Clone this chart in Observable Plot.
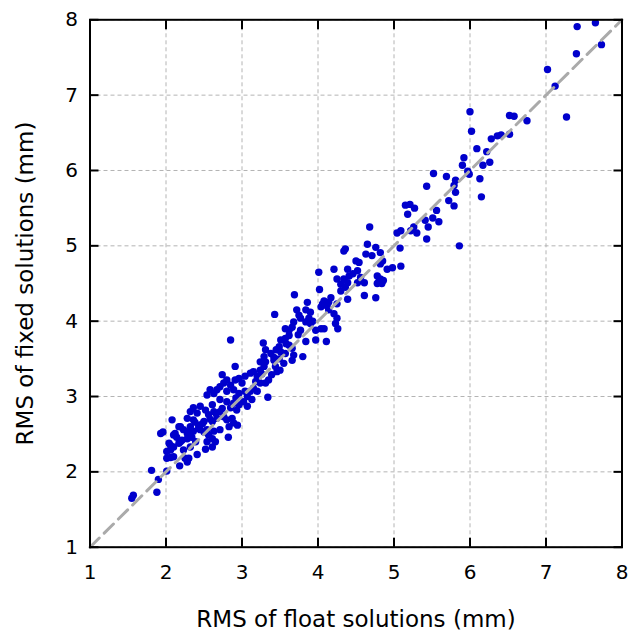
<!DOCTYPE html>
<html>
<head>
<meta charset="utf-8">
<script src="https://cdn.jsdelivr.net/npm/d3@7"></script>
<script src="https://cdn.jsdelivr.net/npm/@observablehq/plot@0.6"></script>
<style>
  html, body { margin: 0; padding: 0; background: #fff; }
  #chart svg { display: block; }
</style>
</head>
<body>
<div id="chart"></div>
<script>
// RMS of float solutions (mm)
const floatRms = [
  7.41,7.65,7.73,7.40,7.02,7.12,7.27,6.75,6.52,6.58,6.00,6.02,6.52,6.41,6.36,6.28,6.09,6.22,6.26,6.17,
  5.92,5.90,5.97,5.99,6.13,6.15,5.52,5.69,5.81,5.43,5.79,5.81,5.72,5.79,5.15,5.21,5.27,5.18,5.56,5.51,
  5.41,5.59,5.45,5.43,5.86,5.04,5.09,5.22,5.30,5.26,5.08,
  4.68,4.65,4.76,4.34,4.36,4.63,4.71,4.82,4.50,4.54,4.85,4.82,4.91,4.98,5.09,4.01,4.21,4.39,4.41,4.34,
  4.25,4.52,4.56,4.52,4.78,4.82,4.80,4.86,4.84,4.78,4.39,4.30,4.36,4.61,4.30,4.02,4.61,4.76,4.39,4.17,
  4.08,4.14,4.06,3.86,4.25,
  3.69,3.84,3.90,4.04,3.72,3.75,3.77,3.43,4.14,4.21,4.25,4.23,3.88,3.84,3.90,3.68,3.66,3.62,3.57,3.77,
  4.04,4.08,3.97,4.26,3.62,3.57,3.51,3.84,3.97,4.11,3.28,3.49,3.62,3.66,3.45,3.51,3.57,3.31,3.38,3.29,
  3.68,3.80,3.66,3.49,3.55,3.42,3.31,
  2.85,3.24,3.29,3.44,3.50,3.46,2.91,2.74,2.80,2.76,2.71,2.85,2.91,2.96,3.00,3.04,3.11,3.15,3.20,3.24,
  3.31,3.35,3.39,2.58,2.63,2.67,2.54,2.80,2.89,2.96,3.04,3.11,3.15,3.20,3.24,3.34,3.07,3.13,3.02,2.71,
  2.80,2.89,2.85,2.96,2.93,2.36,2.45,2.32,2.41,2.52,2.61,2.63,2.56,2.71,2.76,2.67,2.80,2.87,2.83,2.89,
  2.28,2.36,2.43,2.32,2.19,2.23,2.50,2.61,2.45,2.54,2.63,2.71,2.28,2.36,
  1.55,1.57,1.88,1.90,1.81,2.01,1.93,1.96,2.18,2.28,2.30,2.25,2.41,2.52,2.61,2.01,2.06,2.10,2.01,2.06,
  2.04,2.06,2.10,2.17,2.19,2.12,2.10,2.14,2.21,2.08,2.17,2.34,2.28,2.39,2.32,2.23,2.54,2.65,2.61,2.56,
  2.50,2.43,2.30,2.82,3.07,2.94,
  2.48,2.58,2.66,2.74,3.18,3.26,3.42,3.58,3.74,3.93,4.12,4.46,2.38,2.92
];
// RMS of fixed solutions (mm)
const fixedRms = [
  7.91,7.96,7.67,7.55,7.34,7.12,6.71,6.66,6.73,6.72,6.78,6.52,6.48,6.47,6.46,6.42,6.29,6.25,6.11,6.07,
  6.17,6.07,5.99,5.95,5.89,5.65,5.96,5.92,5.87,5.79,5.80,5.71,5.60,5.53,5.54,5.55,5.50,5.42,5.47,5.37,
  5.34,5.32,5.25,5.09,5.00,5.17,5.20,5.20,5.17,5.25,4.97,
  5.25,5.02,4.98,4.93,4.96,4.89,4.87,4.91,4.80,4.78,4.80,4.76,4.69,4.71,4.73,4.65,4.69,4.69,4.60,4.56,
  4.56,4.67,4.58,4.51,4.60,4.56,4.52,4.54,4.50,4.50,4.51,4.49,4.45,4.51,4.40,4.42,4.34,4.31,4.29,4.31,
  4.27,4.25,4.23,4.25,4.23,
  4.35,4.15,4.12,4.19,4.15,4.08,4.04,4.09,4.15,4.10,4.04,3.97,4.04,3.99,3.97,3.99,3.92,3.88,3.90,3.88,
  3.90,3.90,3.88,3.90,3.81,3.77,3.75,3.73,3.75,3.73,3.71,3.66,3.68,3.64,3.62,3.59,3.57,3.62,3.57,3.53,
  3.55,3.53,3.48,3.50,3.44,3.48,3.46,
  3.75,3.46,3.40,3.40,3.35,3.33,3.40,3.29,3.22,3.18,3.13,3.15,3.22,3.24,3.18,3.27,3.31,3.33,3.27,3.35,
  3.18,3.22,3.29,3.09,3.04,3.09,3.02,3.07,3.09,3.04,3.07,3.07,3.11,3.07,3.18,2.99,3.00,2.96,2.93,2.96,
  2.93,2.91,2.85,2.89,2.82,2.85,2.87,2.80,2.78,2.82,2.89,2.80,2.76,2.80,2.73,2.71,2.69,2.71,2.60,2.65,
  2.71,2.69,2.62,2.60,2.60,2.56,2.67,2.67,2.56,2.56,2.54,2.56,2.51,2.54,
  1.65,1.69,1.73,1.90,2.02,2.01,2.51,2.53,2.08,2.13,2.18,2.18,2.23,2.30,2.33,2.18,2.19,2.20,2.27,2.29,
  2.38,2.35,2.33,2.38,2.40,2.51,2.49,2.46,2.42,2.69,2.60,2.46,2.44,2.40,2.33,2.29,2.40,2.40,2.44,2.49,
  2.53,2.58,2.53,2.46,2.87,2.62,
  2.64,2.70,2.77,2.84,3.20,3.30,3.52,3.70,3.82,4.00,4.20,4.63,2.66,2.98
];
const ticks = [1, 2, 3, 4, 5, 6, 7, 8];
const xLabel = "RMS of float solutions (mm)";
const yLabel = "RMS of fixed solutions (mm)";

const points = floatRms.map((f, i) => ({float: f, fixed: fixedRms[i]}));
const lo = ticks[0], hi = ticks[ticks.length - 1];
const diagonal = [[lo, lo], [hi, hi]];

const font = "DejaVu Sans, sans-serif";
const tickLen = 9;
const tickStyle = {ticks, tickSize: tickLen, stroke: "#000", strokeWidth: 2, fill: "none", label: null, tickFormat: () => ""};

const chart = Plot.plot({
  width: 629,
  height: 636,
  marginTop: 19.3,
  marginRight: 7.5,
  marginBottom: 89.3,
  marginLeft: 89.5,
  style: {fontFamily: font, background: "#fff"},
  x: {domain: [lo, hi]},
  y: {domain: [lo, hi]},
  marks: [
    Plot.gridX(ticks, {stroke: "#b4b4b4", strokeOpacity: 1, strokeWidth: 1, strokeDasharray: "4,3"}),
    Plot.gridY(ticks, {stroke: "#b4b4b4", strokeOpacity: 1, strokeWidth: 1, strokeDasharray: "4,3"}),
    Plot.dot(points, {x: "float", y: "fixed", r: 3.7, fill: "#0000cc", stroke: "none"}),
    Plot.line(diagonal, {x: d => d[0], y: d => d[1], stroke: "#aaaaaa", strokeWidth: 3, strokeDasharray: "13,7"}),
    Plot.frame({stroke: "#000", strokeWidth: 2}),
    // inner tick marks on all four sides
    Plot.axisX({...tickStyle, anchor: "bottom", dy: -tickLen}),
    Plot.axisX({...tickStyle, anchor: "top", dy: tickLen}),
    Plot.axisY({...tickStyle, anchor: "left", dx: tickLen}),
    Plot.axisY({...tickStyle, anchor: "right", dx: -tickLen}),
    // tick labels
    Plot.axisX({ticks, anchor: "bottom", tickSize: 0, tickPadding: 17.5, fontSize: 20, fill: "#000", label: null, tickFormat: d3.format("d")}),
    Plot.axisY({ticks, anchor: "left", tickSize: 0, tickPadding: 12, fontSize: 20, fill: "#000", label: null, tickFormat: d3.format("d")}),
    // axis titles
    Plot.text([xLabel], {text: d => d, frameAnchor: "bottom", textAnchor: "middle", lineAnchor: "bottom", dy: 79.3, fontSize: 23, fill: "#000"}),
    Plot.text([yLabel], {text: d => d, frameAnchor: "left", textAnchor: "middle", lineAnchor: "bottom", rotate: -90, dx: -57.5, fontSize: 23, fill: "#000"})
  ]
});
document.getElementById("chart").appendChild(chart);
</script>
</body>
</html>
